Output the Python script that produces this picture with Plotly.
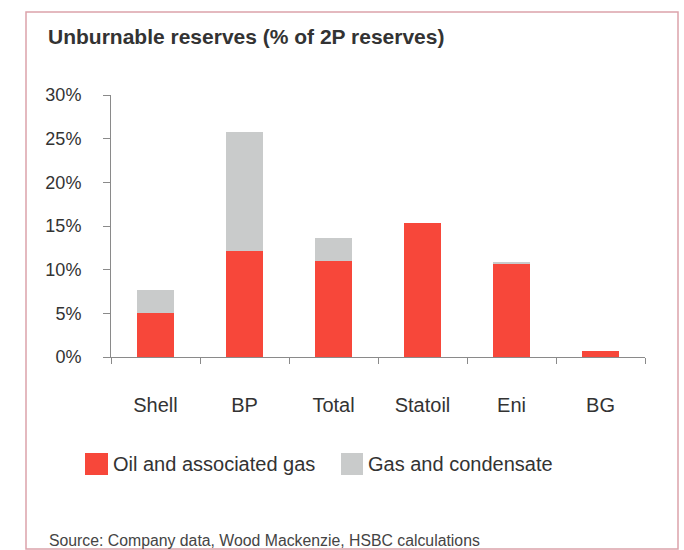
import plotly.graph_objects as go

# ---- data ----
companies = ["Shell", "BP", "Total", "Statoil", "Eni", "BG"]
oil_assoc_gas = [5.0, 12.1, 11.0, 15.4, 10.6, 0.7]          # % of 2P reserves
gas_condensate = [2.7, 13.7, 2.6, 0.0, 0.3, 0.0]            # % of 2P reserves (stacked)
series_names = ["Oil and associated gas", "Gas and condensate"]
y_ticks = [0, 5, 10, 15, 20, 25, 30]
title_text = "Unburnable reserves (% of 2P reserves)"
source_text = "Source: Company data, Wood Mackenzie, HSBC calculations"

RED = "#f7473a"
GREY = "#c9cbcb"
TXT = "#333333"
AX = "#8a8a8a"
FONT = "Liberation Sans, Arial, sans-serif"

W, H = 684, 550
ML, MR, MT, MB = 111, 39, 95, 193
PW, PH = W - ML - MR, H - MT - MB


def px(x):
    return (x - ML) / PW


def py(y):
    return (H - MB - y) / PH


fig = go.Figure()
fig.add_trace(go.Bar(x=companies, y=oil_assoc_gas, name=series_names[0],
                     marker=dict(color=RED, line=dict(width=0)), showlegend=False))
fig.add_trace(go.Bar(x=companies, y=gas_condensate, name=series_names[1],
                     marker=dict(color=GREY, line=dict(width=0)), showlegend=False))

shapes = [
    # outer frame
    dict(type="rect", xref="paper", yref="paper",
         x0=px(26), x1=px(678), y0=py(549), y1=py(12),
         line=dict(color="#dca3ab", width=1.5), fillcolor="rgba(0,0,0,0)", layer="below"),
    # legend swatches
    dict(type="rect", xref="paper", yref="paper",
         x0=px(85), x1=px(108), y0=py(475), y1=py(453),
         line=dict(width=0), fillcolor=RED),
    dict(type="rect", xref="paper", yref="paper",
         x0=px(341), x1=px(363), y0=py(475), y1=py(453),
         line=dict(width=0), fillcolor=GREY),
]

annotations = [
    dict(text=series_names[0], xref="paper", yref="paper", x=px(111), y=py(464),
         xanchor="left", yanchor="middle", showarrow=False,
         font=dict(family=FONT, size=20, color=TXT)),
    dict(text=series_names[1], xref="paper", yref="paper", x=px(366), y=py(464),
         xanchor="left", yanchor="middle", showarrow=False,
         font=dict(family=FONT, size=20, color=TXT)),
    dict(text=source_text, xref="paper", yref="paper", x=px(47), y=py(540),
         xanchor="left", yanchor="middle", showarrow=False,
         font=dict(family=FONT, size=15.8, color="#444444")),
    dict(text="<b>" + title_text + "</b>", xref="paper", yref="paper", x=px(46), y=py(37),
         xanchor="left", yanchor="middle", showarrow=False,
         font=dict(family=FONT, size=21, color=TXT)),
]

fig.update_layout(
    width=W, height=H,
    margin=dict(l=ML, r=MR, t=MT, b=MB, pad=0),
    barmode="stack",
    bargap=0.58,
    plot_bgcolor="white",
    paper_bgcolor="white",
    font=dict(family=FONT, color=TXT),
    shapes=shapes,
    annotations=annotations,
    showlegend=False,
)

fig.update_xaxes(
    showline=True, linecolor=AX, linewidth=1,
    ticks="outside", tickson="boundaries", ticklen=6, tickcolor=AX,
    tickfont=dict(family=FONT, size=20, color=TXT),
    ticklabelstandoff=30,
    showgrid=False, zeroline=False, fixedrange=True,
)
fig.update_yaxes(
    range=[0, 30], tickvals=y_ticks, ticktext=[f"{v}%" for v in y_ticks],
    showline=True, linecolor=AX, linewidth=1,
    ticks="outside", ticklen=7, tickcolor=AX,
    tickfont=dict(family=FONT, size=18, color=TXT),
    ticklabelstandoff=18,
    showgrid=False, zeroline=False, fixedrange=True,
)

fig.write_html("out.html", config=dict(displayModeBar=False),
               post_script="document.body.style.margin='0';document.body.style.overflow='hidden';")
